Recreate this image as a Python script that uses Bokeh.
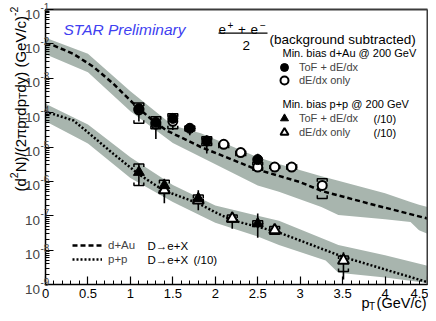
import math
from bokeh.plotting import figure
from bokeh.models import (Range1d, FixedTicker, SingleIntervalTicker, CustomJSTickFormatter,
                          Label, Legend, LegendItem, BoxAnnotation, LinearAxis, LogAxis)
from bokeh.embed import file_html
from bokeh.resources import INLINE

FONT = "Liberation Sans"
BAND = "#a8b5ae"

# ---------------- data ----------------
# d+Au charm-decay curve (D -> e+X) and its uncertainty band
dau_curve_pt = [0.0, 0.1, 0.33, 0.57, 0.8, 1.04, 1.24, 1.43, 1.83, 2.47, 3.0, 3.26, 3.8, 4.5]
dau_curve_y = [1.0e-2, 8.9e-3, 5.1e-3, 2.1e-3, 6.9e-4, 1.8e-4, 6.6e-5, 3.0e-5, 1.0e-5, 2.3e-6,
               9.5e-7, 5.2e-7, 2.3e-7, 8.3e-8]
dau_band_pt = [0.0, 0.5, 1.0, 1.5, 1.83, 2.5, 2.75, 3.25, 3.45, 4.0, 4.3, 4.4, 4.5]
dau_band_hi = [1.5e-2, 5.2e-3, 4.2e-4, 4.2e-5, 2.5e-5, 5.0e-6, 3.2e-6, 1.4e-6, 1.05e-6, 4.5e-7,
               2.5e-7, 2.1e-7, 1.8e-7]
dau_band_lo = [5.0e-3, 1.5e-3, 1.1e-4, 1.3e-5, 5.1e-6, 7.6e-7, 5.0e-7, 1.8e-7, 1.05e-7, 7.9e-8,
               6.6e-8, 3.8e-8, 3.0e-8]

# p+p curve (/10) and band
pp_curve_pt = [0.0, 0.33, 0.55, 0.8, 1.1, 1.39, 1.8, 2.0, 2.2, 2.73, 3.51, 4.5]
pp_curve_y = [1.07e-4, 5.9e-5, 2.1e-5, 6.3e-6, 1.6e-6, 5.5e-7, 2.3e-7, 1.26e-7, 7.4e-8, 3.4e-8,
              6.3e-9, 1.17e-9]
pp_band_pt = [0.0, 0.5, 1.0, 1.5, 2.0, 2.5, 2.75, 3.3, 3.45, 4.0, 4.5]
pp_band_hi = [1.8e-4, 4.5e-5, 5.0e-6, 7.9e-7, 2.0e-7, 1.0e-7, 7.1e-8, 2.0e-8, 1.4e-8, 7.1e-9, 3.5e-9]
pp_band_lo = [5.6e-5, 1.26e-5, 1.26e-6, 2.5e-7, 6.3e-8, 2.5e-8, 1.4e-8, 5.0e-9, 2.2e-9, 1.6e-9, 1.1e-9]

# d+Au data points
dau_tof_pt = [1.1, 1.3, 1.5, 1.7, 1.9, 2.5]
dau_tof_y = [1.3e-4, 5.2e-5, 6.8e-5, 3.5e-5, 1.5e-5, 4.3e-6]
dau_tof_lo = [5.5e-5, 1.7e-5, 3.1e-5, 2.2e-5, 6.5e-6, 3.0e-6]
dau_tof_hi = [1.75e-4, 7.4e-5, 9.3e-5, 4.9e-5, 2.2e-5, 6.4e-6]

dau_dedx_pt = [1.1, 1.3, 1.5, 2.1, 2.3, 2.5, 2.7, 2.9, 3.26]
dau_dedx_y = [1.2e-4, 4.6e-5, 5.6e-5, 1.2e-5, 6.9e-6, 2.6e-6, 2.6e-6, 2.6e-6, 7.6e-7]
dau_dedx_lo = [1.05e-4, 3.9e-5, 4.9e-5, 1.05e-5, 6.0e-6, 2.2e-6, 2.3e-6, 2.3e-6, 6.0e-7]
dau_dedx_hi = [1.35e-4, 5.3e-5, 6.4e-5, 1.4e-5, 8.0e-6, 3.0e-6, 3.0e-6, 3.0e-6, 9.5e-7]

dau_sys_pt = [1.1, 1.3, 1.5, 1.7, 1.9, 2.1, 2.3, 2.5, 2.7, 2.9, 3.26]
dau_sys_lo = [4.9e-5, 3.4e-5, 3.4e-5, 2.9e-5, 1.1e-5, 1.08e-5, 6.3e-6, 2.1e-6, 2.4e-6, 2.55e-6, 3.2e-7]
dau_sys_hi = [1.9e-4, 7.6e-5, 9.3e-5, 4.1e-5, 2.0e-5, 1.12e-5, 6.6e-6, 3.6e-6, 2.8e-6, 2.65e-6, 1.2e-6]

# p+p data points (/10)
pp_tof_pt = [1.1, 1.4, 1.8, 2.5]
pp_tof_y = [1.85e-6, 7.6e-7, 3.2e-7, 5.9e-8]
pp_tof_lo = [7.6e-7, 2.3e-7, 1.45e-7, 2.3e-8]
pp_tof_hi = [3.2e-6, 1.2e-6, 5.5e-7, 1.17e-7]

pp_dedx_pt = [1.4, 1.8, 2.2, 2.7, 3.51]
pp_dedx_y = [5.6e-7, 2.8e-7, 8.3e-8, 3.8e-8, 5.0e-9]
pp_dedx_lo = [3.5e-7, 2.2e-7, 4.2e-8, 3.2e-8, 1.4e-9]
pp_dedx_hi = [7.9e-7, 3.5e-7, 1.3e-7, 5.0e-8, 8.7e-9]

pp_sys_pt = [1.1, 1.4, 1.8, 2.2, 2.5, 2.7, 3.51]
pp_sys_lo = [7.6e-7, 4.5e-7, 2.6e-7, 6.6e-8, 5.0e-8, 2.9e-8, 2.4e-9]
pp_sys_hi = [3.2e-6, 1.07e-6, 4.0e-7, 1.05e-7, 7.1e-8, 4.9e-8, 6.8e-9]

# axes
X_MIN, X_MAX = 0.0, 4.5
Y_MIN, Y_MAX = 1e-9, 1e-1
y_tick_vals = [1e-9, 1e-8, 1e-7, 1e-6, 1e-5, 1e-4, 1e-3, 1e-2, 1e-1]
y_tick_exps = ["-9", "-8", "-7", "-6", "-5", "-4", "-3", "-2", "-1"]
y_minor_vals = [m * v for v in y_tick_vals[:-1] for m in range(2, 10)]

# ---------------- layout (pixels) ----------------
W_PX, H_PX = 428, 313
F_LEFT, F_RIGHT, F_TOP, F_BOTTOM = 45, 427, 9, 284      # plotting box inside canvas
px_per_x = (F_RIGHT - F_LEFT) / (X_MAX - X_MIN)
px_per_dec = (F_BOTTOM - F_TOP) / (math.log10(Y_MAX) - math.log10(Y_MIN))
xr = Range1d(X_MIN - F_LEFT / px_per_x, X_MAX + (W_PX - F_RIGHT) / px_per_x)
yr = Range1d(10 ** (math.log10(Y_MIN) - (H_PX - F_BOTTOM) / px_per_dec),
             10 ** (math.log10(Y_MAX) + F_TOP / px_per_dec))

p = figure(width=W_PX, height=H_PX, x_range=xr, y_range=yr, y_axis_type="log",
           output_backend="svg", toolbar_location=None, title=None,
           min_border_left=0, min_border_right=0, min_border_top=0, min_border_bottom=0)
p.grid.visible = False
p.background_fill_color = "white"
p.border_fill_color = "white"
p.outline_line_color = None

xa = p.xaxis[0]
ya = p.yaxis[0]
xa.fixed_location = Y_MIN
ya.fixed_location = X_MIN
xa.bounds = (X_MIN, X_MAX)
ya.bounds = (Y_MIN, Y_MAX)
xa.ticker = SingleIntervalTicker(interval=0.5, num_minor_ticks=5)
xa.formatter = CustomJSTickFormatter(code="return tick.toFixed(1).replace(/\\.0$/, '');")
ya.ticker = FixedTicker(ticks=y_tick_vals, minor_ticks=y_minor_vals)
ya.formatter = CustomJSTickFormatter(code="return '';")
for ax in (xa, ya):
    ax.axis_line_color = "black"
    ax.axis_line_width = 1.5
    ax.major_tick_in = 8
    ax.major_tick_out = 0
    ax.minor_tick_in = 4
    ax.minor_tick_out = 0
    ax.major_tick_line_color = "black"
    ax.minor_tick_line_color = "black"
    ax.major_tick_line_width = 1.2
    ax.minor_tick_line_width = 1
    ax.major_label_text_font = FONT
    ax.major_label_text_font_size = "13px"
    ax.major_label_text_color = "black"
xa.major_label_standoff = 4
ya.major_label_standoff = 0

# top and right frame lines
top_ax = LinearAxis(fixed_location=Y_MAX, bounds=(X_MIN, X_MAX), ticker=FixedTicker(ticks=[]),
                    axis_line_color="#3c3c3c", axis_line_width=2, major_tick_in=0,
                    major_tick_out=0, minor_tick_in=0, minor_tick_out=0)
right_ax = LogAxis(fixed_location=X_MAX, bounds=(Y_MIN, Y_MAX), ticker=FixedTicker(ticks=[]),
                   axis_line_color="#3c3c3c", axis_line_width=2, major_tick_in=0,
                   major_tick_out=0, minor_tick_in=0, minor_tick_out=0)
p.add_layout(top_ax, "above")
p.add_layout(right_ax, "right")

# bands
p.varea(x=dau_band_pt, y1=dau_band_lo, y2=dau_band_hi, fill_color=BAND, fill_alpha=1)
p.varea(x=pp_band_pt, y1=pp_band_lo, y2=pp_band_hi, fill_color=BAND, fill_alpha=1)

# curves
r_dash = p.line(dau_curve_pt, dau_curve_y, line_color="black", line_width=2.5, line_dash="5 3")
r_dot = p.line(pp_curve_pt, pp_curve_y, line_color="black", line_width=2.5, line_dash="2 2")


def brackets(pts, lo, hi, dx=0.058, leg=10 ** (3.0 / 34.0)):
    xs, ys = [], []
    for x, l, h in zip(pts, lo, hi):
        xs.append([x - dx, x - dx, x + dx, x + dx])
        ys.append([h / leg, h, h, h / leg])
        xs.append([x - dx, x - dx, x + dx, x + dx])
        ys.append([l * leg, l, l, l * leg])
    return xs, ys


for pts, lo, hi in ((dau_sys_pt, dau_sys_lo, dau_sys_hi), (pp_sys_pt, pp_sys_lo, pp_sys_hi)):
    bx, by = brackets(pts, lo, hi)
    p.multi_line(bx, by, line_color="black", line_width=1.5)

# stat error bars
for pts, lo, hi in ((dau_dedx_pt, dau_dedx_lo, dau_dedx_hi), (dau_tof_pt, dau_tof_lo, dau_tof_hi),
                    (pp_dedx_pt, pp_dedx_lo, pp_dedx_hi), (pp_tof_pt, pp_tof_lo, pp_tof_hi)):
    p.segment(x0=pts, y0=lo, x1=pts, y1=hi, line_color="black", line_width=1.6)

# markers
r_dau_dedx = p.scatter(dau_dedx_pt, dau_dedx_y, marker="circle", size=9, fill_color="white",
                       line_color="black", line_width=2)
r_dau_tof = p.scatter(dau_tof_pt, dau_tof_y, marker="circle", size=10, fill_color="black",
                      line_color="black")
r_pp_dedx = p.scatter(pp_dedx_pt, pp_dedx_y, marker="triangle", size=11, fill_color="white",
                      line_color="black", line_width=2)
r_pp_tof = p.scatter(pp_tof_pt, pp_tof_y, marker="triangle", size=11, fill_color="black",
                     line_color="black")


# ---------------- annotations (positions given in canvas pixels, y down) ----------------
def txt(text, X, Y, size="11px", align="left", baseline="middle", style="normal",
        color="black", angle=0.0):
    p.add_layout(Label(x=X, y=H_PX - Y, x_units="screen", y_units="screen", text=text,
                       text_font=FONT, text_font_size=size, text_align=align,
                       text_baseline=baseline, text_font_style=style, text_color=color,
                       angle=angle))


def legend_row(renderer, text, gx, gy, gw=20, gh=20, standoff=5, size="11px"):
    lg = Legend(items=[LegendItem(label=text, renderers=[renderer])],
                location=(gx - gw / 2.0, H_PX - gy - gh / 2.0), orientation="vertical",
                glyph_width=gw, glyph_height=gh, label_standoff=standoff,
                label_text_font=FONT, label_text_font_size=size, label_height=gh,
                padding=0, margin=0, spacing=0, border_line_alpha=0,
                background_fill_alpha=0)
    p.add_layout(lg)


# y tick labels 10^n
for v, e in zip(y_tick_vals, y_tick_exps):
    p.add_layout(Label(x=X_MIN, y=v, x_offset=-5.5, y_offset=-4.5, text="10", text_font=FONT,
                       text_font_size="13.5px", text_align="right", text_baseline="middle"))
    p.add_layout(Label(x=X_MIN, y=v, x_offset=-5, y_offset=2.5, text=e, text_font=FONT,
                       text_font_size="10px", text_align="left", text_baseline="middle"))

# y axis title, composed of pieces (rotated, reading upwards)
W = {'(': 0.333, ')': 0.333, 'd': 0.556, 'N': 0.722, '/': 0.278, '2': 0.556, 'π': 0.57,
     'p': 0.556, 'T': 0.611, 'y': 0.5, ' ': 0.278, 'G': 0.778, 'e': 0.556, 'V': 0.667,
     'c': 0.5, '-': 0.333}
pieces = [("(d", 15, 0), ("2", 10.5, -6), ("N)/(2πp", 15, 0), ("T", 10.5, 3), ("dp", 15, 0),
          ("T", 10.5, 3), ("dy) (GeV/c)", 15, 0), ("-2", 10.5, -6)]
pos_y = 191.0
for t, fs, shift in pieces:
    txt(t, 19.5 + shift, pos_y, size=f"{fs}px", baseline="alphabetic", angle=math.pi / 2)
    pos_y -= sum(W.get(ch, 0.55) for ch in t) * fs

# x axis title (drawn as "middle"-aligned pieces, kept clear of the canvas bottom)
txt("p", 361, 302, size="14.5px")
txt("T", 368.5, 306, size="10px")
txt("(GeV/c)", 426, 302, size="14.5px", align="right")

# STAR Preliminary
txt("STAR Preliminary", 63, 28.5, size="15.5px", style="italic", color="#4040f0")

# (e+ + e-)/2 (background subtracted)
txt("e", 218, 29, size="13.5px", baseline="alphabetic")
txt("+", 227, 24, size="10px", baseline="alphabetic")
txt("+", 237.5, 29, size="13.5px", baseline="alphabetic")
txt("e", 250, 29, size="13.5px", baseline="alphabetic")
txt("\u2212", 259.5, 24, size="10px", baseline="alphabetic")
p.add_layout(BoxAnnotation(left=218, right=267, bottom=H_PX - 33.3, top=H_PX - 32,
                           left_units="screen", right_units="screen", bottom_units="screen",
                           top_units="screen", fill_color="black", fill_alpha=1, line_alpha=0))
txt("2", 242, 45, size="13.5px", baseline="alphabetic")
txt("(background subtracted)", 269, 38.5, size="13.5px", baseline="alphabetic")

# upper-right legend
txt("Min. bias d+Au @ 200 GeV", 282, 52)
legend_row(r_dau_tof, "ToF + dE/dx", 284, 67)
legend_row(r_dau_dedx, "dE/dx only", 284, 80)
txt("Min. bias p+p @ 200 GeV", 282, 103)
legend_row(r_pp_tof, "ToF + dE/dx", 284, 118)
legend_row(r_pp_dedx, "dE/dx only", 284, 132)
txt("(/10)", 373, 118)
txt("(/10)", 373, 132)

# lower-left legend
legend_row(r_dash, "d+Au", 87, 245, gw=30, standoff=6, size="11.5px")
legend_row(r_dot, "p+p", 87, 259, gw=30, standoff=6, size="11.5px")
txt("D\u2192e+X", 147, 245, size="11.5px")
txt("D\u2192e+X", 147, 259, size="11.5px")
txt("(/10)", 193, 259, size="11.5px")

open("out.html", "w").write(file_html(p, INLINE))
